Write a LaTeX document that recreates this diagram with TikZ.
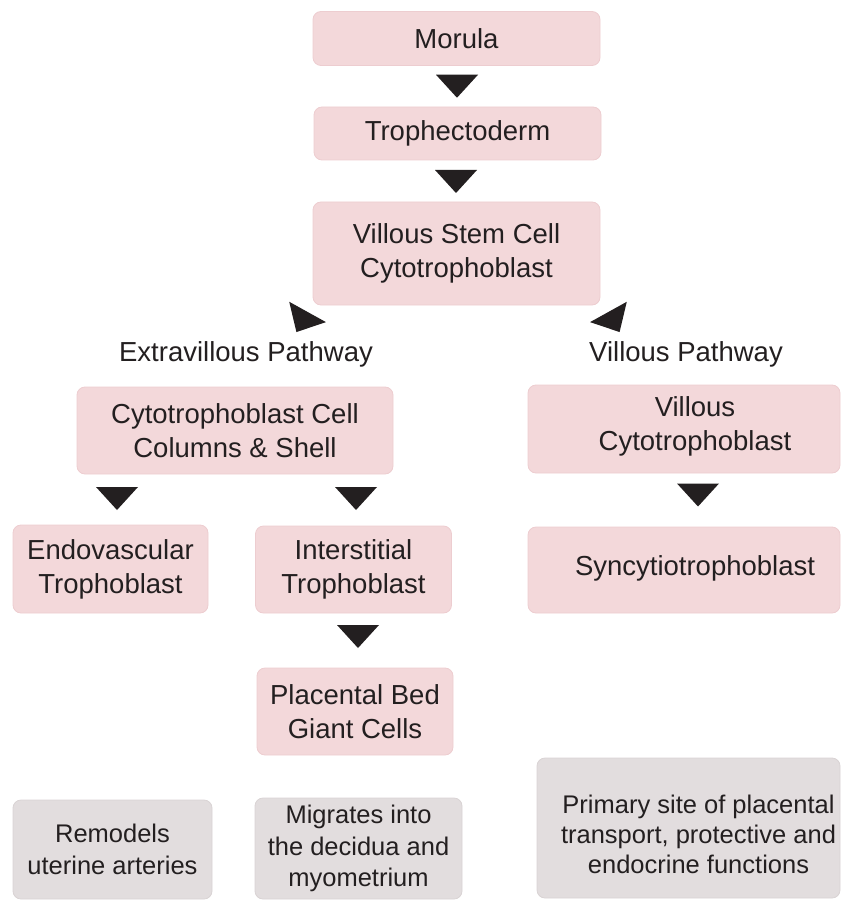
\documentclass[tikz,border=0pt]{standalone}
\usepackage{fontspec}
\setmainfont{Liberation Sans}
\usetikzlibrary{calc}
\definecolor{pinkfill}{HTML}{F3D8DA}
\definecolor{pinkline}{HTML}{EDCDD0}
\definecolor{grayfill}{HTML}{E2DDDE}
\definecolor{grayline}{HTML}{D9D3D4}
\definecolor{inkcol}{HTML}{231F20}
\tikzset{
  base/.style={rounded corners=8pt, line width=0.8pt, inner sep=0pt, align=center, text=inkcol},
  pinkbox/.style={base, fill=pinkfill, draw=pinkline, font=\fontsize{27.5}{34}\selectfont},
  graybox/.style={base, fill=grayfill, draw=grayline, font=\fontsize{25.5}{31.5}\selectfont},
  txt/.style={align=center, text=inkcol, inner sep=0pt, font=\fontsize{27.5}{34}\selectfont},
  gtxt/.style={align=center, text=inkcol, inner sep=0pt, font=\fontsize{25.5}{30}\selectfont},
  dtri/.pic={\fill[inkcol] (-21,11.5) -- (21,11.5) -- (0,-11.5) -- cycle;}
}
\begin{document}
\begin{tikzpicture}[x=1pt,y=1pt]
\useasboundingbox (0,0) rectangle (841,-901);
% pink boxes
\node[pinkbox, minimum width=287, minimum height=54] (morula) at (456.5,-38.5) {Morula};
\node[pinkbox, minimum width=287, minimum height=53] (troph) at (457.5,-133.5) {Trophectoderm};
\node[pinkbox, minimum width=287, minimum height=103] (vscc) at (456.5,-253.5) {Villous Stem Cell\\Cytotrophoblast};
\node[pinkbox, minimum width=316, minimum height=87] (ctcc) at (235,-430.5) {Cytotrophoblast Cell\\Columns \& Shell};
\node[pinkbox, minimum width=195, minimum height=88] (endo) at (110.5,-569) {Endovascular\\Trophoblast};
\node[pinkbox, minimum width=196, minimum height=87] (inter) at (353.5,-569.5) {Interstitial\\Trophoblast};
\node[pinkbox, minimum width=196, minimum height=87] (pbgc) at (355,-711.5) {Placental Bed\\Giant Cells};
\node[pinkbox, minimum width=312, minimum height=88] (vc) at (684,-429) {};
\node[txt] (vct) at (695,-426) {Villous\\Cytotrophoblast};
\node[pinkbox, minimum width=312, minimum height=86] (sync) at (684,-570) {};
\node[txt] (synct) at (695,-568) {Syncytiotrophoblast};
% gray boxes
\node[graybox, minimum width=199, minimum height=99] (remod) at (112.5,-849.5) {Remodels\\uterine arteries};
\node[graybox, minimum width=207, minimum height=101] (migr) at (358.5,-848.5) {Migrates into\\the decidua and\\myometrium};
\node[graybox, minimum width=303, minimum height=140] (prim) at (688.5,-828) {};
\node[gtxt] (primt) at (698.5,-834) {Primary site of placental\\transport, protective and\\endocrine functions};
% pathway labels
\node[txt] (extra) at (246,-354) {Extravillous Pathway};
\node[txt] (vill) at (686,-354) {Villous Pathway};
% triangles
\pic at ($(morula.south)!0.5!(troph.north)$) {dtri};
\pic at (456,-181.5) {dtri};
\pic[rotate=-29] at (302,-322) {dtri};
\pic[rotate=29] at (614,-322) {dtri};
\pic at (117,-498.5) {dtri};
\pic at (356,-498.5) {dtri};
\pic at (698,-495) {dtri};
\pic at (358,-636.5) {dtri};
\end{tikzpicture}
\end{document}
